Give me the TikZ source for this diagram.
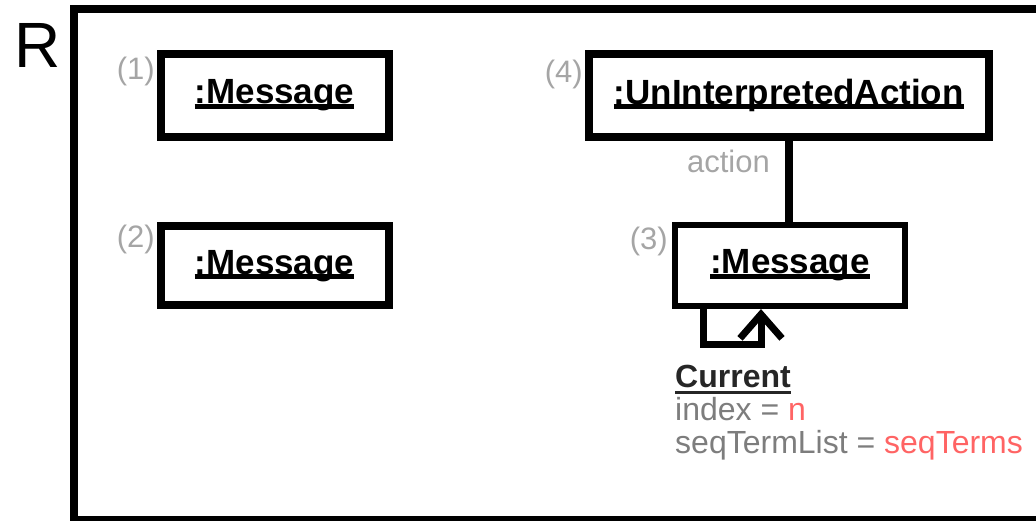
\documentclass[tikz,border=0pt]{standalone}
\usepackage{fontspec}
\setmainfont{Liberation Sans}
\usetikzlibrary{arrows.meta}
\definecolor{labelgray}{RGB}{165,165,165}
\definecolor{textgray}{RGB}{125,125,125}
\definecolor{valred}{RGB}{255,100,100}
% underlined object name: depth, thickness, text
\newcommand{\umlname}[3]{\setbox0\hbox{#3}\rlap{\rule[#1]{\wd0}{#2}}\box0}
\tikzset{
  obj/.style={draw,line width=8pt,inner sep=0pt,font=\fontsize{35}{40}\selectfont\bfseries},
  tag/.style={text=labelgray,inner sep=0pt,font=\fontsize{31}{36}\selectfont},
  link/.style={line width=8pt},
}
\begin{document}
\begin{tikzpicture}[x=1pt,y=-1pt]
\useasboundingbox (0,0) rectangle (1036,521);
\draw[link] (1036,9.5) -- (73.5,9.5) -- (73.5,519.5) -- (1036,519.5);
\node[anchor=base west,inner sep=0pt,font=\fontsize{64}{70}\selectfont] (R) at (14,68) {R};
% objects
\node[obj,minimum width=228pt,minimum height=83.5pt] (m1) at (274.5,95.3) {\umlname{-5pt}{5pt}{:Message}};
\node[obj,minimum width=228pt,minimum height=79pt] (m2) at (274.5,266) {\umlname{-5pt}{5pt}{:Message}};
\node[obj,minimum width=400.5pt,minimum height=82.5pt] (m4) at (788.75,95.3) {\umlname{-5pt}{5pt}{:UnInterpretedAction}};
\node[obj,line width=6pt,minimum width=230pt,minimum height=81.5pt] (m3) at (790,265.3) {\umlname{-5pt}{5pt}{:Message}};
\node[tag,anchor=north east] (t1) at (155,57) {(1)};
\node[tag,anchor=north east] (t2) at (155,225) {(2)};
\node[tag,anchor=north east] (t4) at (583,60) {(4)};
\node[tag,anchor=north east] (t3) at (668,227) {(3)};
% action link
\draw[link] (m4.south) -- (m4.south |- m3.north);
\node[tag,anchor=base east] (act) at (770,173) {action};
% self loop
\coordinate (lp1) at (703,344);
\coordinate (lp2) at (761,344);
\draw[link,line width=7pt,line join=miter,-{Straight Barb[length=24pt,width=42pt]}]
  (lp1 |- m3.south) -- (lp1) -- (lp2) -- (lp2 |- m3.south);
\node[anchor=north west,inner sep=0pt,align=left,text=textgray,font=\fontsize{32}{33}\selectfont] (cur) at (675,365)
  {{\bfseries\color{black!85}\umlname{-6pt}{3pt}{Current}}\\
   index = \textcolor{valred}{n}\\
   seqTermList = \textcolor{valred}{seqTerms}};
\end{tikzpicture}
\end{document}
